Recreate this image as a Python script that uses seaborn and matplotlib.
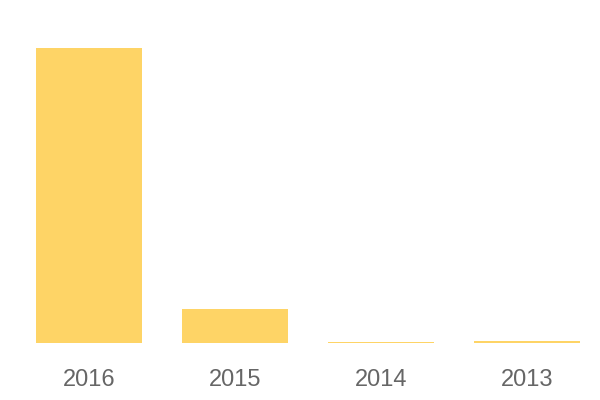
import numpy as np
import pandas as pd
import matplotlib
matplotlib.use("Agg")
import matplotlib.pyplot as plt
import seaborn as sns

# values (relative bar heights)
years = ["2016", "2015", "2014", "2013"]
counts = [295, 34, 1.4, 2.4]

df = pd.DataFrame({"year": years, "count": counts})

sns.set_theme(style="white")
plt.rcParams["font.family"] = ["Liberation Sans", "DejaVu Sans"]

fig = plt.figure(figsize=(6, 4), dpi=100)
ax = fig.add_axes([16 / 600, 57 / 400, 584 / 600, 295 / 400])

sns.barplot(data=df, x="year", y="count", color="#FED466", saturation=1,
            width=0.72, linewidth=0, ax=ax)

ax.set_xlim(-0.5, 3.5)
ax.set_ylim(0, 295)
ax.set_xlabel("")
ax.set_ylabel("")
ax.set_yticks([])
ax.tick_params(axis="x", length=0, pad=19, labelsize=17, labelcolor="#666666")
sns.despine(ax=ax, left=True, bottom=True)

fig.savefig("out.png", dpi=100)
